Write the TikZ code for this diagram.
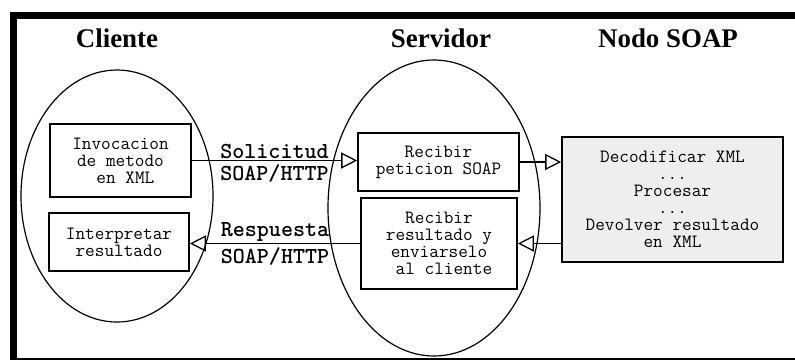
\documentclass[tikz,border=0pt]{standalone}
\usepackage{fontspec}
\setmainfont{Liberation Serif}
\usetikzlibrary{arrows.meta,shapes.geometric}

\definecolor{soapgray}{HTML}{EEEEEE}
\tikzset{
  title/.style={font=\fontsize{27}{30}\selectfont\bfseries, inner sep=0pt},
  group/.style={draw, ellipse, line width=1.2bp, inner sep=0pt},
  stepbox/.style={draw, line width=1.6bp, inner sep=0pt, align=center,
    font=\fontsize{18.8}{17}\selectfont\ttfamily},
  soapbox/.style={stepbox, fill=soapgray},
  flow/.style={line width=1.3bp, -{Triangle[open, length=16bp, width=16bp, line width=1.3bp]}},
  proto/.style={font=\fontsize{23}{25}\selectfont\ttfamily\bfseries},
}

\begin{document}
\begin{tikzpicture}[x=1bp, y=-1bp]
  \useasboundingbox (0,0) rectangle (795,361);

  % frame: heavy left and top bars, thin bottom rule
  \fill (10,12) rectangle (17,360);
  \fill (10,12) rectangle (795,19);
  \draw[line width=1.5bp] (17,359) -- (795,359);

  % column titles
  \node[title] (tcli) at (117,38) {Cliente};
  \node[title] (tsrv) at (441,38) {Servidor};
  \node[title] (tsoap) at (668,38) {Nodo SOAP};

  % client and server groups
  \node[group, minimum width=192bp, minimum height=252bp] (cli) at (117,196) {};
  \node[group, minimum width=212bp, minimum height=296bp] (srv) at (434,208) {};

  % client steps
  \node[stepbox, minimum width=141bp, minimum height=73bp] (inv) at (120.5,160.5)
    {Invocacion\\de metodo\\\hspace*{0.525em}en XML};
  \node[stepbox, minimum width=140bp, minimum height=58bp] (int) at (119,242)
    {Interpretar\\resultado};

  % server steps
  \node[stepbox, minimum width=161bp, minimum height=58bp] (rec) at (438.5,162)
    {Recibir\\peticion SOAP};
  \node[stepbox, minimum width=156bp, minimum height=91bp] (env) at (439,243.5)
    {Recibir\\resultado y\\enviarselo\\\hspace*{0.525em}al cliente};

  % SOAP node
  \node[soapbox, minimum width=221bp, minimum height=125bp] (proc) at (672.5,199.5)
    {Decodificar XML\\...\\Procesar\\...\\Devolver resultado\\en XML};

  % messages
  \draw[flow] (inv.east) -- (inv.east -| rec.west)
    node[midway, above, proto, inner sep=1.5bp] (sol) {Solicitud}
    node[midway, below, proto, inner sep=3bp] (solp) {SOAP/HTTP};
  \draw[flow] (rec.east) -- (rec.east -| proc.west);
  \draw[flow] (env.east -| proc.west) -- (env.east);
  \draw[flow] (env.west) -- (env.west -| int.east)
    node[midway, above, proto, inner sep=1.5bp] (res) {Respuesta}
    node[midway, below, proto, inner sep=3bp] (resp) {SOAP/HTTP};
\end{tikzpicture}
\end{document}
